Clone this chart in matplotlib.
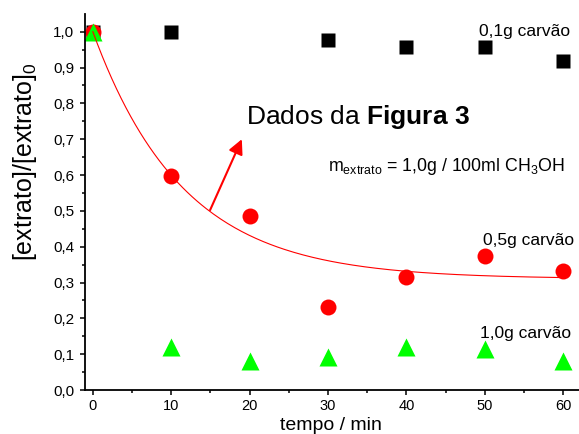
import numpy as np
import matplotlib
matplotlib.use('Agg')
import matplotlib.pyplot as plt

plt.rcParams['font.family'] = ['Liberation Sans', 'DejaVu Sans']
plt.rcParams['mathtext.fontset'] = 'custom'
plt.rcParams['mathtext.rm'] = 'Liberation Sans'
plt.rcParams['mathtext.it'] = 'Liberation Sans:italic'
plt.rcParams['mathtext.bf'] = 'Liberation Sans:bold'

# dados
tempo = [0, 10, 20, 30, 40, 50, 60]
carvao_01 = [1.0, 1.0, None, 0.977, 0.957, 0.958, 0.918]
carvao_05 = [1.0, 0.597, 0.486, 0.231, 0.316, 0.375, 0.332]
carvao_10 = [1.0, 0.119, 0.082, 0.093, 0.119, 0.114, 0.081]

# parametros do ajuste exponencial (y = y0 + A*exp(-t/t1))
fit_y0 = 0.31
fit_A = 0.69
fit_t1 = 11.5

x_ticks = [0, 10, 20, 30, 40, 50, 60]
y_ticks = [0.0, 0.1, 0.2, 0.3, 0.4, 0.5, 0.6, 0.7, 0.8, 0.9, 1.0]


def fmt(v):
    return ('%.1f' % v).replace('.', ',')


fig = plt.figure(figsize=(5.79, 4.34), dpi=100)
ax = fig.add_axes([85 / 579, 44 / 434, 494 / 579, 376.2 / 434])

t01 = [t for t, v in zip(tempo, carvao_01) if v is not None]
v01 = [v for v in carvao_01 if v is not None]
ax.plot(t01, v01, 's', color='black', ms=10, mec='none')
ax.plot(tempo, carvao_05, 'o', color='#ff0000', ms=11.5, mec='none')
ax.plot(tempo, carvao_10, '^', color='#00ff00', ms=13, mec='none')

xf = np.linspace(0, 60, 200)
ax.plot(xf, fit_y0 + fit_A * np.exp(-xf / fit_t1), '-', color='#ff0000', lw=0.8)

ax.annotate('', xy=(19.0, 0.70), xytext=(14.95, 0.502),
            arrowprops=dict(arrowstyle='-|>', color='#ff0000', lw=1.5,
                            mutation_scale=22, shrinkA=0, shrinkB=0))

ax.text(19.5, 0.742, r'Dados da $\mathbf{Figura\ 3}$', fontsize=19,
        ha='left', va='baseline')
ax.text(30.0, 0.611, r'm$_{\mathrm{extrato}}$ = 1,0g / 100ml CH$_{\mathrm{3}}$OH',
        fontsize=12.8, ha='left', va='baseline')
ax.text(49.2, 0.989, '0,1g carvão', fontsize=12.5, ha='left', va='baseline')
ax.text(49.7, 0.405, '0,5g carvão', fontsize=12.5, ha='left', va='baseline')
ax.text(49.4, 0.144, '1,0g carvão', fontsize=12.5, ha='left', va='baseline')

ax.set_xlim(-1, 62)
ax.set_ylim(0, 1.05)
ax.set_xticks(x_ticks)
ax.set_xticks([5, 15, 25, 35, 45, 55], minor=True)
ax.set_yticks(y_ticks)
ax.set_yticklabels([fmt(v) for v in y_ticks])
ax.set_yticks(np.arange(0.05, 1.05, 0.1), minor=True)

for s in ['top', 'right']:
    ax.spines[s].set_visible(False)
for s in ['left', 'bottom']:
    ax.spines[s].set_linewidth(1.3)

ax.tick_params(which='major', direction='out', length=3.8, width=1.1, labelsize=11)
ax.tick_params(which='minor', direction='out', length=2.5, width=1.1)
ax.tick_params(axis='x', which='major', pad=3, labelsize=10.5)
ax.tick_params(axis='y', which='major', pad=4)

# rotulo do eixo x colocado junto a borda inferior
fig.text(331 / 579, 0, 'tempo / min', fontsize=14, ha='center', va='bottom')
fig.text(25 / 579, 1 - 162 / 434, r'[extrato]/[extrato]$_{\mathrm{0}}$',
         fontsize=18, rotation=90, ha='center', va='center')

fig.savefig('out.png', dpi=100)
